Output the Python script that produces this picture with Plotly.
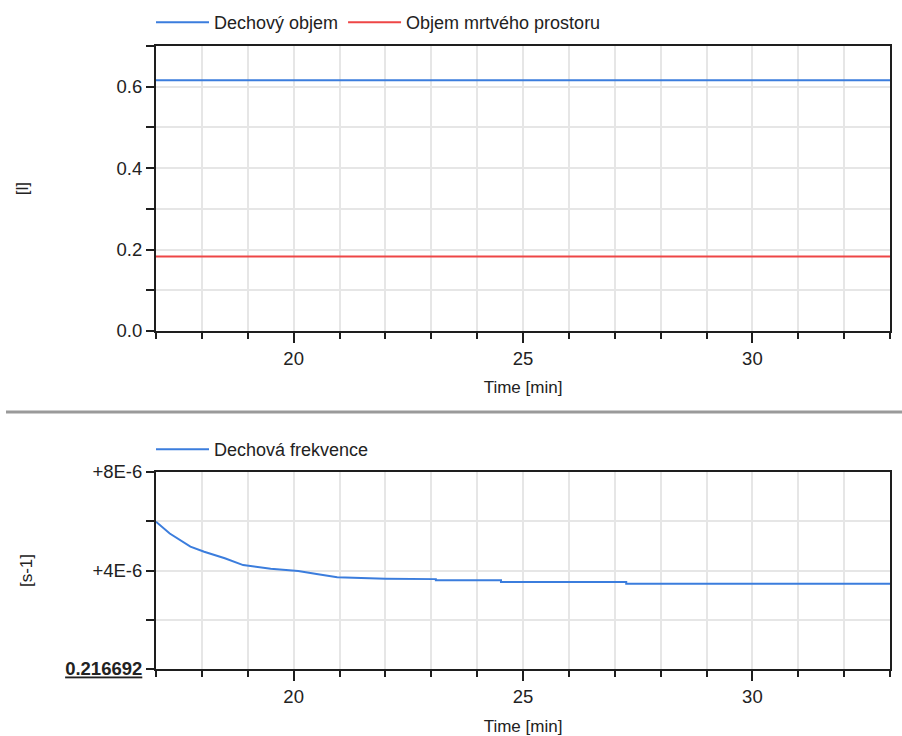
import plotly.graph_objects as go

# ---- data ----
time_range = [17, 33]
top_time = [17, 33]
dechovy_objem = [0.616, 0.616]          # [l]
objem_mrtveho_prostoru = [0.183, 0.183]  # [l]

base_freq = 0.216692  # axis base value
freq_time = [17.0, 17.3, 17.75, 18.05, 18.5, 18.9, 19.5, 20.1, 20.5, 20.95,
             22.0, 23.1, 23.1, 24.52, 24.52, 27.25, 27.25, 33.0]
freq_offset_e6 = [5.98, 5.5, 4.97, 4.76, 4.5, 4.22, 4.07, 3.98, 3.86, 3.73,
                  3.67, 3.65, 3.60, 3.60, 3.53, 3.53, 3.46, 3.46]
freq_tick_offsets_e6 = [0, 2, 4, 6, 8]
freq_tick_text = ["<b><u>0.216692</u></b>", "", "+4E-6", "", "+8E-6"]

W, H = 902, 736
FONT = "Liberation Sans, Arial, sans-serif"
BLUE = "#3b7ddd"
RED = "#ee4646"
GRID = "#e6e6e6"
AX = "#1e1e1e"

freq_vals = [base_freq + v * 1e-6 for v in freq_offset_e6]
tickvals_b = [base_freq + v * 1e-6 for v in freq_tick_offsets_e6]

fig = go.Figure()
fig.add_trace(go.Scatter(x=top_time, y=dechovy_objem, mode="lines", name="Dechový objem",
                         line=dict(color=BLUE, width=2), xaxis="x", yaxis="y", legend="legend"))
fig.add_trace(go.Scatter(x=top_time, y=objem_mrtveho_prostoru, mode="lines", name="Objem mrtvého prostoru",
                         line=dict(color=RED, width=2), xaxis="x", yaxis="y", legend="legend"))
fig.add_trace(go.Scatter(x=freq_time, y=freq_vals, mode="lines", name="Dechová frekvence",
                         line=dict(color=BLUE, width=2), xaxis="x2", yaxis="y2", legend="legend2"))

xd = [156 / W, 890 / W]
ytop = [1 - 331 / H, 1 - 46 / H]
ybot = [1 - 669 / H, 1 - 472 / H]

tickfont = dict(family=FONT, size=18.5, color="#222")
titlefont = dict(family=FONT, size=17, color="#222")
legfont = dict(family=FONT, size=18, color="#222")

def xaxis_common(anchor, standoff):
    return dict(domain=xd, anchor=anchor, range=time_range, dtick=5, tick0=0,
                ticks="outside", ticklen=10, tickwidth=2, tickcolor=AX,
                showline=True, linecolor=AX, linewidth=2, mirror=True,
                showgrid=True, gridcolor=GRID, gridwidth=1.5, zeroline=False,
                tickfont=tickfont,
                minor=dict(dtick=1, tick0=0, ticks="outside", ticklen=6, tickwidth=2,
                           tickcolor=AX, showgrid=True, gridcolor=GRID, gridwidth=1.5),
                title=dict(text="Time [min]", font=titlefont, standoff=standoff))

fig.update_layout(
    width=W, height=H,
    margin=dict(l=0, r=0, t=0, b=0, autoexpand=False),
    paper_bgcolor="white", plot_bgcolor="white",
    font=dict(family=FONT, color="#222"),
    xaxis=xaxis_common("y", 13),
    xaxis2=xaxis_common("y2", 15),
    yaxis=dict(domain=ytop, anchor="x", range=[0, 0.7], dtick=0.2, tick0=0, tickformat=".1f",
               ticks="outside", ticklen=8, tickwidth=2, tickcolor=AX,
               showline=True, linecolor=AX, linewidth=2, mirror=True,
               showgrid=True, gridcolor=GRID, gridwidth=1.5, zeroline=False,
               tickfont=tickfont,
               minor=dict(dtick=0.1, tick0=0, ticks="outside", ticklen=8, tickwidth=2,
                          tickcolor=AX, showgrid=True, gridcolor=GRID, gridwidth=1.5),
               title=dict(text="[l]", font=titlefont, standoff=84)),
    yaxis2=dict(domain=ybot, anchor="x2", range=[tickvals_b[0], tickvals_b[-1]],
                tickmode="array", tickvals=tickvals_b, ticktext=freq_tick_text,
                ticks="outside", ticklen=8, tickwidth=2, tickcolor=AX,
                showline=True, linecolor=AX, linewidth=2, mirror=True,
                showgrid=True, gridcolor=GRID, gridwidth=1.5, zeroline=False,
                tickfont=tickfont,
                title=dict(text="[s-1]", font=titlefont, standoff=28)),
    legend=dict(orientation="h", x=151 / W, xanchor="left", y=1 - 4 / H, yanchor="top",
                itemwidth=53, font=legfont, bgcolor="rgba(0,0,0,0)"),
    legend2=dict(orientation="h", x=151 / W, xanchor="left", y=1 - 431 / H, yanchor="top",
                 itemwidth=53, font=legfont, bgcolor="rgba(0,0,0,0)"),
    shapes=[dict(type="line", xref="paper", yref="paper", x0=6 / W, x1=1,
                 y0=1 - 412 / H, y1=1 - 412 / H, line=dict(color="#9a9a9a", width=3))],
)

fig.write_html("out.html")
